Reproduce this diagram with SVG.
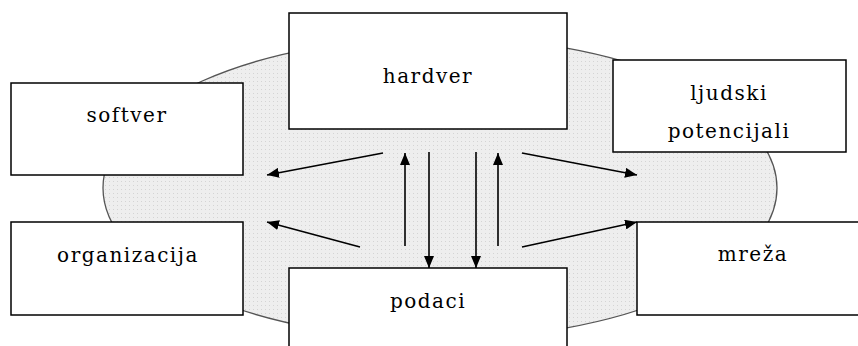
<svg xmlns="http://www.w3.org/2000/svg" width="858" height="346" viewBox="0 0 858 346">
<defs>
<pattern id="dots" width="4" height="4" patternUnits="userSpaceOnUse">
<rect width="4" height="4" fill="#eeeeee"/>
<rect x="1" y="1" width="1" height="1" fill="#d4d4d4"/>
</pattern>
<marker id="ah" markerWidth="12" markerHeight="10" refX="12" refY="5" orient="auto" markerUnits="userSpaceOnUse">
<path d="M0,0 L12,5 L0,10 Z" fill="#000"/>
</marker>
</defs>
<style>
.box{fill:#fff;stroke:#000;stroke-width:1.5}
.lbl{font-family:"DejaVu Serif","Liberation Serif",serif;font-size:20px;letter-spacing:1.5px;text-anchor:middle;fill:#000}
.con{stroke:#000;stroke-width:1.6;fill:none;marker-end:url(#ah)}
</style>
<rect width="858" height="346" fill="#fff"/>
<ellipse id="background" cx="440" cy="188" rx="337" ry="151" fill="url(#dots)" stroke="#555" stroke-width="1.3"/>
<g id="connectors">
<line class="con" x1="383" y1="153" x2="267" y2="175"/>
<line class="con" x1="405" y1="246" x2="405" y2="153"/>
<line class="con" x1="429" y1="152" x2="429" y2="268"/>
<line class="con" x1="476" y1="152" x2="476" y2="268"/>
<line class="con" x1="498" y1="246" x2="498" y2="153"/>
<line class="con" x1="522" y1="153" x2="637" y2="175"/>
<line class="con" x1="360" y1="247" x2="267" y2="222"/>
<line class="con" x1="522" y1="247" x2="637" y2="222"/>
</g>
<g id="hardver">
<rect class="box" x="289" y="13" width="278" height="116"/>
<text class="lbl" x="428" y="83">hardver</text>
</g>
<g id="softver">
<rect class="box" x="11" y="83" width="232" height="92"/>
<text class="lbl" x="127" y="122">softver</text>
</g>
<g id="ljudski">
<rect class="box" x="613" y="60" width="233" height="92"/>
<text class="lbl" x="729" y="100">ljudski</text>
<text class="lbl" x="729" y="138">potencijali</text>
</g>
<g id="organizacija">
<rect class="box" x="11" y="222" width="232" height="93"/>
<text class="lbl" x="128" y="262">organizacija</text>
</g>
<g id="mreza">
<rect class="box" x="637" y="222" width="232" height="93"/>
<text class="lbl" x="753" y="261">mreža</text>
</g>
<g id="podaci">
<rect class="box" x="289" y="268" width="278" height="90"/>
<text class="lbl" x="428" y="308">podaci</text>
</g>
</svg>
